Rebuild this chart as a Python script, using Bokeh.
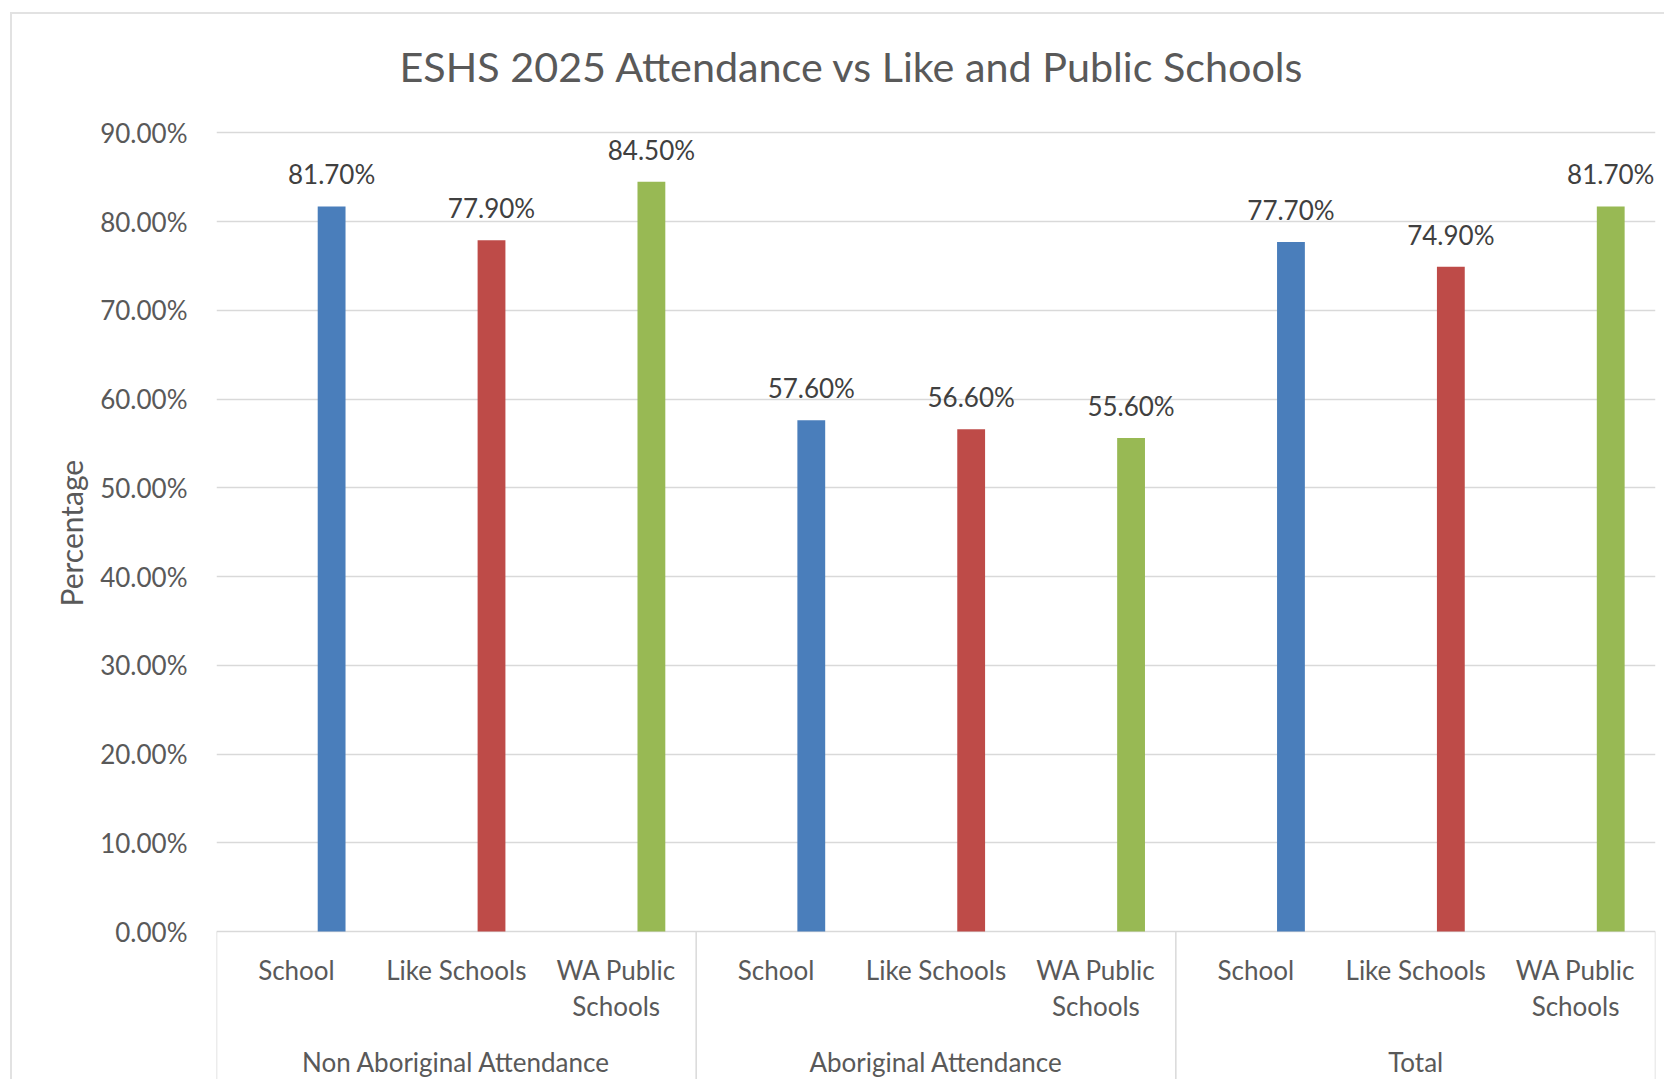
from bokeh.plotting import figure
from bokeh.models import (ColumnDataSource, FactorRange, Range1d, FixedTicker,
                          NumeralTickFormatter, Title)
from bokeh.transform import dodge
from bokeh.core.properties import value
from bokeh.embed import file_html
from bokeh.resources import INLINE

# ---------------- data ----------------
title_text = "ESHS 2025 Attendance vs Like and Public Schools"
y_label = "Percentage"
groups = ["Non Aboriginal Attendance", "Aboriginal Attendance", "Total"]
categories = ["School", "Like Schools", "WA Public Schools"]
category_labels = ["School", "Like Schools", "WA Public\nSchools"]
non_aboriginal = [0.817, 0.779, 0.845]
aboriginal = [0.576, 0.566, 0.556]
total = [0.777, 0.749, 0.817]
y_ticks = [0.0, 0.1, 0.2, 0.3, 0.4, 0.5, 0.6, 0.7, 0.8, 0.9]
series_colors = ["#4A7EBB", "#BE4B48", "#98B954"]

# ---------------- layout (pixels, figure coordinates) ----------------
W, H = 1654, 1067
FRAME_L, FRAME_R, FRAME_T = 204, 1643, 104
ZERO_Y = 917
PX_PER_UNIT = 887.4
FONT = "Lato"
GREY_TXT = "#595959"
LINE = "#D9D9D9"

factors = [(g, c) for g in groups for c in categories]
values = non_aboriginal + aboriginal + total
colors = series_colors * len(groups)
labels = [f"{v * 100:.2f}%" for v in values]

src = ColumnDataSource(dict(x=factors, top=values, color=colors, label=labels,
                            cat=category_labels * len(groups)))

x_range = FactorRange(*factors, factor_padding=0, group_padding=0,
                      subgroup_padding=0, range_padding=0)
y_range = Range1d(-(H - ZERO_Y) / PX_PER_UNIT, (ZERO_Y - FRAME_T) / PX_PER_UNIT)

p = figure(width=W, height=H, x_range=x_range, y_range=y_range,
           output_backend="svg", toolbar_location=None, x_axis_location=None,
           min_border_left=FRAME_L, min_border_right=W - FRAME_R,
           min_border_top=FRAME_T, min_border_bottom=0)
p.styles = {"margin-top": "12px", "margin-left": "10px",
            "border-top": "2px solid #E2E2E2", "border-left": "2px solid #E2E2E2"}
p.outline_line_color = None
p.background_fill_color = "white"
p.border_fill_color = "white"

# title
p.title.text = title_text
p.title.align = "left"
p.title.vertical_align = "top"
p.title.offset = 183
p.title.text_font = FONT
p.title.text_font_size = "41.3px"
p.title.text_font_style = "normal"
p.title.text_color = GREY_TXT
p.title.standoff = 52

# y axis
ticker = FixedTicker(ticks=y_ticks)
p.yaxis.ticker = ticker
p.ygrid.ticker = ticker
p.yaxis.formatter = NumeralTickFormatter(format="0.00%")
p.yaxis.axis_line_color = None
p.yaxis.major_tick_line_color = None
p.yaxis.minor_tick_line_color = None
p.yaxis.major_tick_out = 0
p.yaxis.major_tick_in = 0
p.yaxis.major_label_standoff = 29
p.yaxis.major_label_text_font = FONT
p.yaxis.major_label_text_font_size = "26px"
p.yaxis.major_label_text_color = GREY_TXT
p.ygrid.grid_line_color = LINE
p.ygrid.grid_line_width = 1.5
p.xgrid.grid_line_color = None

ylab = Title(text=y_label, align="left", offset=475, text_font=FONT,
             text_font_size="30px", text_font_style="normal",
             text_color=GREY_TXT, standoff=17)
p.add_layout(ylab, "left")

# bars
bar_x = dodge("x", 0.22, range=p.x_range)
p.vbar(x=bar_x, top="top", width=0.174, bottom=0, fill_color="color",
       line_color=None, source=src)

# data labels
p.text(x=bar_x, y="top", text="label", source=src, text_align="center",
       text_baseline="middle", y_offset=-32, text_font=value(FONT),
       text_font_size=value("26px"), text_color="#404040")

# category labels
p.text(x="x", y=0, text="cat", source=src, text_align="center",
       text_baseline="top", y_offset=22, text_line_height=1.13,
       text_font=value(FONT), text_font_size=value("26px"),
       text_color=GREY_TXT)

# group labels
gsrc = ColumnDataSource(dict(x=[(g, categories[1]) for g in groups], label=groups))
p.text(x="x", y=0, text="label", source=gsrc, text_align="center",
       text_baseline="middle", y_offset=130, text_font=value(FONT),
       text_font_size=value("26px"), text_color=GREY_TXT)

# group separators
left_edges = ColumnDataSource(dict(x=[(g, categories[0]) for g in groups]))
right_edge = ColumnDataSource(dict(x=[(groups[-1], categories[-1])]))
y_bottom = y_range.start
p.segment(x0=dodge("x", -0.5, range=p.x_range), y0=0,
          x1=dodge("x", -0.5, range=p.x_range), y1=y_bottom,
          line_color=LINE, line_width=1.5, source=left_edges)
p.segment(x0=dodge("x", 0.5, range=p.x_range), y0=0,
          x1=dodge("x", 0.5, range=p.x_range), y1=y_bottom,
          line_color=LINE, line_width=1.5, source=right_edge)

open("out.html", "w").write(file_html(p, INLINE))
